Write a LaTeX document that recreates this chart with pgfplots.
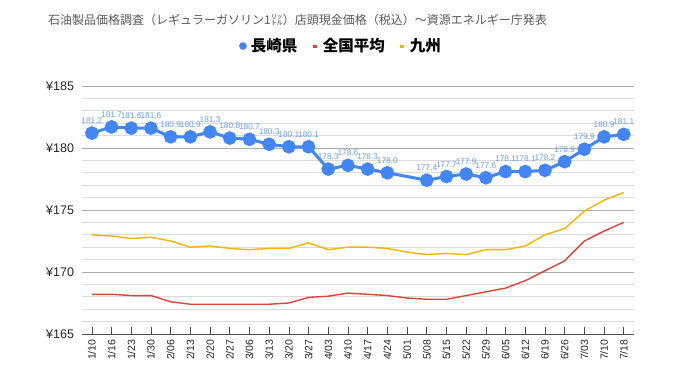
\documentclass[border=0pt]{standalone}
\usepackage{pgfplots}
\pgfplotsset{compat=1.18}
\usepackage{fontspec}
\setmainfont{Liberation Sans}
\newfontfamily\cjk{Noto Sans CJK JP}
\definecolor{cblue}{HTML}{4285F4}
\definecolor{cred}{HTML}{DB4437}
\definecolor{cyellow}{HTML}{F4B400}
\definecolor{lblue}{HTML}{6D9EEB}
\begin{document}
\begin{tikzpicture}[x=1pt,y=1pt]
\useasboundingbox (0,0) rectangle (680,382);
\node[anchor=west,inner sep=0pt,font=\cjk\fontsize{12}{14}\selectfont,text=black!65] at (48,362) {石油製品価格調査（レギュラーガソリン1㍑）店頭現金価格（税込）～資源エネルギー庁発表};
\begin{axis}[
  at={(82pt,48pt)}, anchor=south west,
  scale only axis, width=551.6pt, height=248pt,
  xmin=-0.5, xmax=27.5, ymin=165, ymax=185,
  axis x line*=bottom, axis y line*=left,
  y axis line style={draw=none},
  x axis line style={draw=black!70, line width=0.8pt},
  ytick={165,170,175,180,185},
  yticklabels={¥165,¥170,¥175,¥180,¥185},
  minor y tick num=4,
  ytick style={draw=none}, minor tick length=0pt,
  ymajorgrids, yminorgrids,
  major grid style={black!33, line width=0.8pt},
  minor grid style={black!14, line width=0.8pt},
  yticklabel style={font=\fontsize{12.5}{14}\selectfont, text=black!85, xshift=-4.5pt},
  xtick={0,...,27},
  xticklabels={1/10,1/16,1/23,1/30,2/06,2/13,2/20,2/27,3/06,3/13,3/20,3/27,4/03,4/10,4/17,4/24,5/01,5/08,5/15,5/22,5/29,6/05,6/12,6/19,6/26,7/03,7/10,7/18},
  xticklabel style={rotate=90, anchor=east, font=\fontsize{10.5}{12}\selectfont, text=black!85, yshift=0pt, xshift=-2pt},
  xtick align=inside, major tick length=7pt,
  xtick style={draw=black!70, line width=0.6pt},
  legend columns=-1,
  legend style={at={(0.4695,1.161)}, anchor=center, draw=none, fill=none,
    font=\cjk\bfseries\fontsize{15.5}{17}\selectfont,
    /tikz/every even column/.append style={column sep=12pt},
    /tikz/every odd column/.append style={column sep=2pt}},
  clip=false,
]
\addplot[cred, line width=1.4pt, forget plot] coordinates {
(0,168.2)(1,168.2)(2,168.1)(3,168.1)(4,167.6)(5,167.4)(6,167.4)(7,167.4)(8,167.4)(9,167.4)(10,167.5)(11,167.95)(12,168.05)(13,168.3)(14,168.2)(15,168.1)(16,167.9)(17,167.8)(18,167.8)(19,168.1)(20,168.4)(21,168.7)(22,169.3)(23,170.1)(24,170.9)(25,172.5)(26,173.3)(27,174.0)};
\addplot[cyellow, line width=1.4pt, forget plot] coordinates {
(0,173.0)(1,172.9)(2,172.7)(3,172.8)(4,172.5)(5,172.0)(6,172.1)(7,171.9)(8,171.8)(9,171.9)(10,171.9)(11,172.35)(12,171.8)(13,172.0)(14,172.0)(15,171.9)(16,171.6)(17,171.4)(18,171.5)(19,171.4)(20,171.8)(21,171.8)(22,172.1)(23,173.0)(24,173.5)(25,174.9)(26,175.8)(27,176.4)};
\addplot[cblue, line width=3pt, mark=*, mark size=5.3pt, mark options={solid, draw=none, fill=cblue},
  nodes near coords={\pgfmathprintnumber[fixed,fixed zerofill,precision=1,assume math mode=true]{\pgfplotspointmeta}},
  every node near coord/.append style={font=\fontsize{8.3}{9}\selectfont, text=lblue, anchor=south, inner sep=0pt, yshift=8pt},
  forget plot] coordinates {
(0,181.2)(1,181.7)(2,181.6)(3,181.6)(4,180.9)(5,180.9)(6,181.3)(7,180.8)(8,180.7)(9,180.3)(10,180.1)(11,180.1)(12,178.3)(13,178.6)(14,178.3)(15,178.0)(17,177.4)(18,177.7)(19,177.9)(20,177.6)(21,178.1)(22,178.1)(23,178.2)(24,178.9)(25,179.9)(26,180.9)(27,181.1)};
\addlegendimage{legend image code/.code={\fill[cblue] (0.2em,0) circle (3.6pt);}}
\addlegendentry{長崎県}
\addlegendimage{legend image code/.code={\draw[cred, line width=3pt] (0em,0) -- (0.45em,0);}}
\addlegendentry{全国平均}
\addlegendimage{legend image code/.code={\draw[cyellow, line width=3pt] (0em,0) -- (0.4em,0);}}
\addlegendentry{九州}
\end{axis}
\end{tikzpicture}
\end{document}
